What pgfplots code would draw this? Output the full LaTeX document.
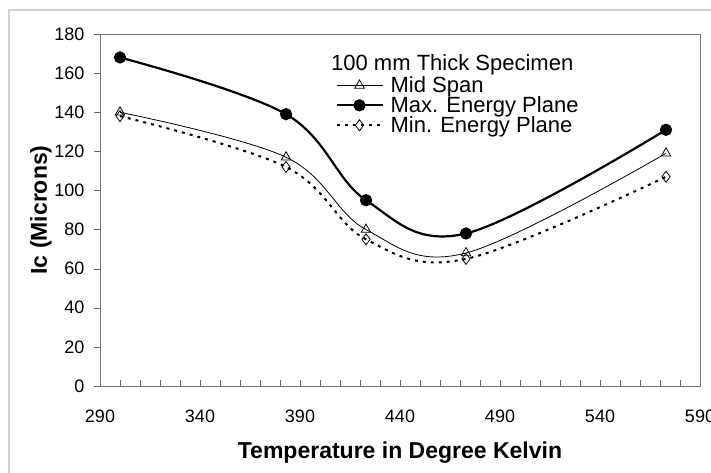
\documentclass[border=0pt]{standalone}
\usepackage{pgfplots}
\pgfplotsset{compat=1.18}
\usepackage{fontspec}
\setmainfont{Liberation Sans}
\newcommand\tickfont{\fontsize{18}{20}\selectfont}
\newcommand\legfont{\fontsize{22}{24}\selectfont}
\newcommand\labfont{\fontsize{23}{26}\selectfont\bfseries}
\begin{document}
\begin{tikzpicture}
\useasboundingbox (0,0) rectangle (711pt,472pt);
\draw[black!18, line width=1.2pt] (9pt,-10pt) rectangle (730pt,462pt);
\begin{axis}[
  at={(100pt,86pt)}, anchor=south west,
  scale only axis, width=600pt, height=352pt,
  xmin=290, xmax=590, ymin=0, ymax=180,
  xtick={290,340,...,590}, minor x tick num=4,
  ytick={0,20,...,180},
  tick align=inside,
  major tick length=6pt, minor tick length=6pt,
  y tick style={xshift=-6pt, black!60},
  x tick style={black!60},
  tickpos=left,
  axis line style={black!55, line width=0.8pt},
  /pgf/number format/assume math mode=true,
  /pgf/number format/1000 sep={},
  xticklabel={\tickfont\pgfmathprintnumber{\tick}},
  yticklabel={\tickfont\pgfmathprintnumber{\tick}},
  xticklabel style={yshift=-20pt},
  yticklabel style={xshift=-12pt},
  xlabel={\labfont Temperature in Degree Kelvin},
  ylabel={\labfont Ic (Microns)},
  xlabel style={yshift=-13pt},
  ylabel style={yshift=-4pt},
  legend style={draw=none, fill=none, at={(0.392,0.885)}, anchor=north west,
    row sep=-1.5pt, inner sep=0pt,
    /tikz/every odd column/.style={column sep=5pt}},
  legend cell align=left,
  legend image code/.code={\draw[mark repeat=2,mark phase=2,#1] plot coordinates {(0pt,0pt) (23pt,0pt) (46pt,0pt)};},
]
\addplot[black, line width=0.8pt, smooth, tension=0.6, mark=triangle, mark size=5.5pt, mark options={solid, fill=white, line width=0.8pt}]
coordinates {(300,140) (383,117) (423,80) (473,68) (573,119)};
\addlegendentry{\legfont Mid Span}
\addplot[black, line width=2.2pt, smooth, tension=0.6, mark=*, mark size=5pt, mark options={solid}]
coordinates {(300,168) (383,139) (423,95) (473,78) (573,131)};
\addlegendentry{\legfont Max. Energy Plane}
\addplot[black, line width=2pt, dash pattern=on 3pt off 5pt, smooth, tension=0.6, mark=diamond, mark size=5.5pt, mark options={solid, fill=white, line width=0.8pt}]
coordinates {(300,138) (383,112) (423,75) (473,65) (573,107)};
\addlegendentry{\legfont Min. Energy Plane}
\node[anchor=base west, inner sep=0pt] at (rel axis cs:0.385,0.895) {\legfont 100 mm Thick Specimen};
\end{axis}
\end{tikzpicture}
\end{document}
